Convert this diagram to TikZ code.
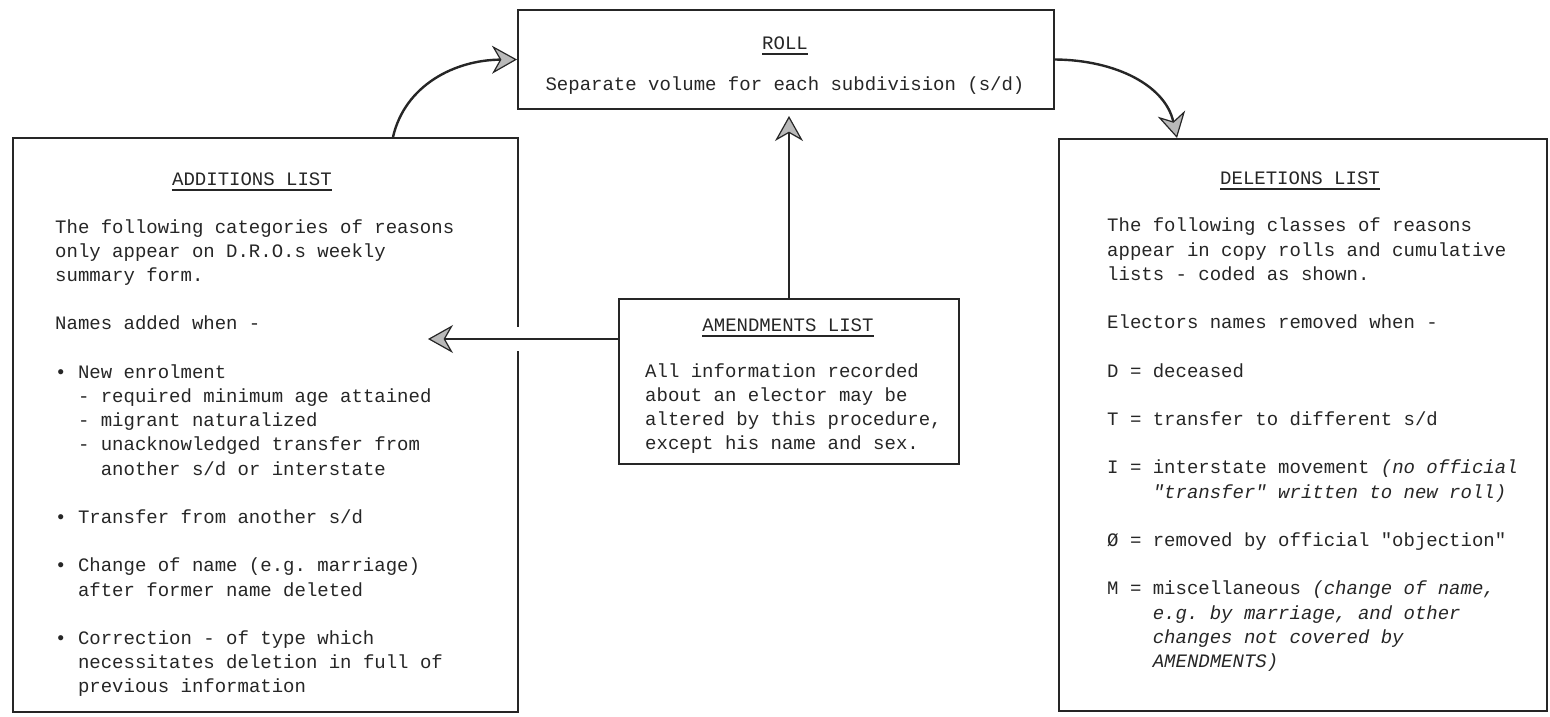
\documentclass[tikz,border=0pt]{standalone}
\usepackage{fontspec}
\newfontfamily\mono{Liberation Mono}
\usetikzlibrary{arrows.meta}
\frenchspacing
\begin{document}
\begin{tikzpicture}[x=1pt,y=-1pt,
  boxst/.style={draw=black!85, line width=2pt, inner sep=0pt, anchor=north west},
  txt/.style={anchor=base west, inner sep=0pt, font=\mono\fontsize{19}{24}\selectfont, text=black!85},
  ttl/.style={txt, anchor=base},
  ul/.style={draw=black!85, line width=2pt},
  arr/.style={line width=2.4pt, draw=black!85, -{Stealth[length=25pt,width=28pt,inset=8pt,fill=gray!55,line width=1.2pt]}},
  gap/.style={draw=white, line width=6pt}
]
\useasboundingbox (0,0) rectangle (1550,717);
\fill[white] (0,0) rectangle (1550,717);

% boxes
\node[boxst, minimum width=536pt, minimum height=99pt] (roll) at (517,9) {};
\node[boxst, minimum width=505pt, minimum height=574pt] (add) at (12,137) {};
\node[boxst, minimum width=340pt, minimum height=165pt] (amend) at (618,298) {};
\node[boxst, minimum width=488pt, minimum height=572pt] (del) at (1058,138) {};

% ROLL
\node[ttl] (rollt) at (785,49) {ROLL};
\draw[ul] ([yshift=-5pt]rollt.base west) -- ([yshift=-5pt]rollt.base east);
\node[ttl] (rolls) at (785,90) {Separate volume for each subdivision (s/d)};

% ADDITIONS
\node[ttl] (addt) at (252,185) {ADDITIONS LIST};
\draw[ul] ([yshift=-5pt]addt.base west) -- ([yshift=-5pt]addt.base east);
\node[txt] (a1) at (55,233) {The following categories of reasons};
\node[txt] (a2) at (55,257.2) {only appear on D.R.O.s weekly};
\node[txt] (a3) at (55,281.4) {summary form.};
\node[txt] (a4) at (55,329.8) {Names added when -};
\node[txt] (a5) at (55,378.2) {• New enrolment};
\node[txt] (a6) at (77.8,402.4) {- required minimum age attained};
\node[txt] (a7) at (77.8,426.6) {- migrant naturalized};
\node[txt] (a8) at (77.8,450.8) {- unacknowledged transfer from};
\node[txt] (a9) at (100.6,475) {another s/d or interstate};
\node[txt] (a10) at (55,523.4) {• Transfer from another s/d};
\node[txt] (a11) at (55,571.8) {• Change of name (e.g. marriage)};
\node[txt] (a12) at (77.8,596) {after former name deleted};
\node[txt] (a13) at (55,644.4) {• Correction - of type which};
\node[txt] (a14) at (77.8,668.6) {necessitates deletion in full of};
\node[txt] (a15) at (77.8,692.8) {previous information};

% AMENDMENTS
\node[ttl] (amt) at (788,331) {AMENDMENTS LIST};
\draw[ul] ([yshift=-5pt]amt.base west) -- ([yshift=-5pt]amt.base east);
\node[txt] (m1) at (645,377) {All information recorded};
\node[txt] (m2) at (645,401.2) {about an elector may be};
\node[txt] (m3) at (645,425.4) {altered by this procedure,};
\node[txt] (m4) at (645,449.6) {except his name and sex.};

% DELETIONS
\node[ttl] (delt) at (1300,184) {DELETIONS LIST};
\draw[ul] ([yshift=-5pt]delt.base west) -- ([yshift=-5pt]delt.base east);
\node[txt] (d1) at (1107,231.8) {The following classes of reasons};
\node[txt] (d2) at (1107,256) {appear in copy rolls and cumulative};
\node[txt] (d3) at (1107,280.2) {lists - coded as shown.};
\node[txt] (d4) at (1107,328.6) {Electors names removed when -};
\node[txt] (d5) at (1107,377) {D = deceased};
\node[txt] (d6) at (1107,425.4) {T = transfer to different s/d};
\node[txt] (d7) at (1107,473.8) {I = interstate movement \itshape(no official};
\node[txt] (d8) at (1152.6,498) {\itshape"transfer" written to new roll)};
\node[txt] (d9) at (1107,546.4) {Ø = removed by official "objection"};
\node[txt] (d10) at (1107,594.8) {M = miscellaneous \itshape(change of name,};
\node[txt] (d11) at (1152.6,619) {\itshape e.g. by marriage, and other};
\node[txt] (d12) at (1152.6,643.2) {\itshape changes not covered by};
\node[txt] (d13) at (1152.6,667.4) {\itshape AMENDMENTS)};

% connectors
\coordinate (addtip) at (428,339);
\draw[gap] (add.north east |- 0,327) -- (add.north east |- 0,351);
\draw[arr] ([xshift=381pt]add.north west) .. controls (405,85) and (455,60) .. (roll.west);
\draw[arr] (roll.east) .. controls (1115,60) and (1165,85) .. ([xshift=119pt]del.north west);
\draw[arr, shorten >=6pt] (amend.north) -- (amend.north |- roll.south);
\draw[arr] ([yshift=-41pt]amend.north west) -- (addtip);
\end{tikzpicture}
\end{document}
